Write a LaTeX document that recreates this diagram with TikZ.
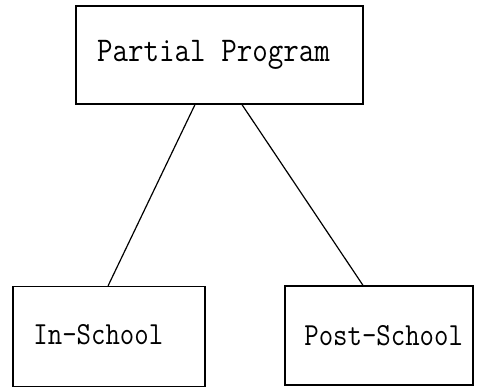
\documentclass[tikz,border=0pt]{standalone}
\usepackage{fontspec}
\usepackage{graphicx}
\begin{document}
\begin{tikzpicture}[x=0.75pt,y=-0.75pt,
  box/.style={draw, line width=1pt, rectangle, inner sep=0pt},
  lbl/.style={inner sep=0pt, font=\ttfamily\fontsize{21}{25}\selectfont},
  biglbl/.style={lbl, font=\ttfamily\fontsize{22.6}{26}\selectfont},
  link/.style={line width=0.9pt}]
\useasboundingbox (0,0) rectangle (483,390);
\node[box, minimum width=215.25pt, minimum height=73.5pt] (top) at (219.5,55) {};
\node[box, minimum width=144pt, minimum height=75pt] (in) at (109,336.5) {};
\node[box, minimum width=141pt, minimum height=74.25pt] (post) at (379,335.5) {};
\node[biglbl] (toptext) at ([xshift=-4.5pt]top.center) {\scalebox{1}[1.15]{Partial Program}};
\node[lbl] (intext) at ([xshift=-8pt,yshift=1.5pt]in.center) {\scalebox{1}[1.15]{In-School}};
\node[lbl] (posttext) at ([xshift=3.5pt]post.center) {\scalebox{1}[1.15]{Post-School}};
\draw[link] ([xshift=-18.4pt]top.south) -- ([xshift=-0.7pt]in.north);
\draw[link] ([xshift=16.9pt]top.south) -- ([xshift=-12pt]post.north);
\end{tikzpicture}
\end{document}
